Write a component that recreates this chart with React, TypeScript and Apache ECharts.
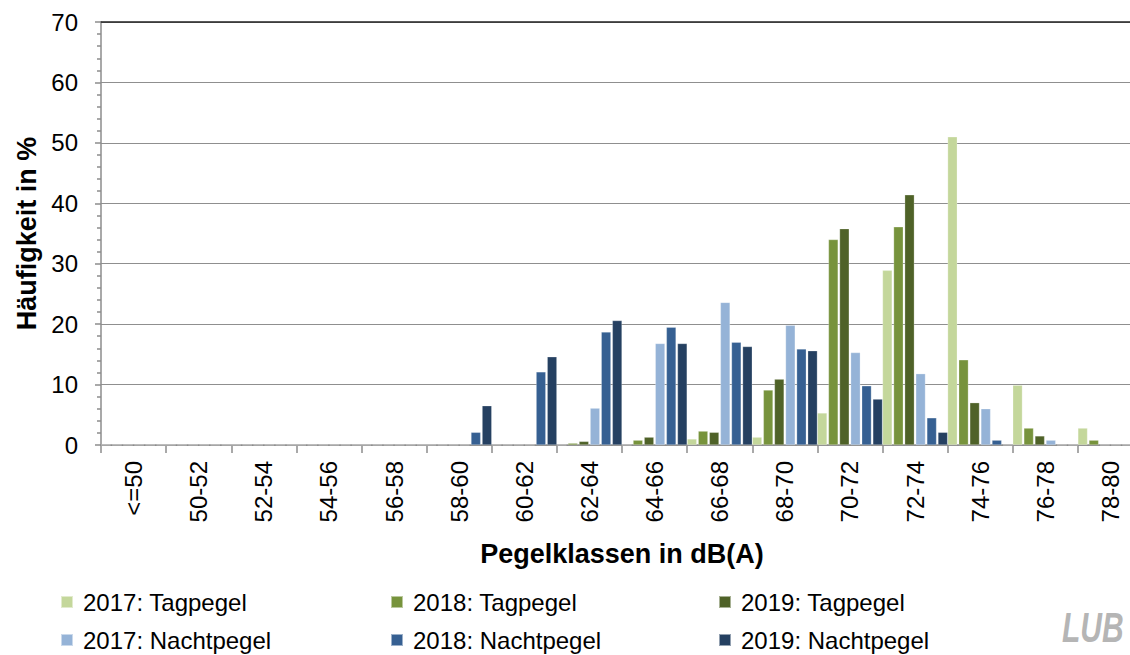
import React, { useEffect, useRef } from "react";
import * as echarts from "echarts";

const categories = ["<=50", "50-52", "52-54", "54-56", "56-58", "58-60", "60-62", "62-64", "64-66", "66-68", "68-70", "70-72", "72-74", "74-76", "76-78", "78-80"];
const tag2017 = [0, 0, 0, 0, 0, 0, 0, 0, 0, 1.0, 1.3, 5.3, 28.9, 51.0, 9.9, 2.8];
const tag2018 = [0, 0, 0, 0, 0, 0, 0, 0.3, 0.8, 2.3, 9.1, 34.0, 36.1, 14.1, 2.8, 0.8];
const tag2019 = [0, 0, 0, 0, 0, 0, 0, 0.6, 1.3, 2.1, 10.9, 35.8, 41.4, 7.0, 1.5, 0];
const nacht2017 = [0, 0, 0, 0, 0, 0, 0, 6.1, 16.8, 23.6, 19.8, 15.3, 11.8, 6.0, 0.8, 0];
const nacht2018 = [0, 0, 0, 0, 0, 2.1, 12.1, 18.7, 19.5, 17.0, 15.9, 9.8, 4.5, 0.8, 0, 0];
const nacht2019 = [0, 0, 0, 0, 0, 6.5, 14.6, 20.6, 16.8, 16.3, 15.6, 7.6, 2.1, 0, 0, 0];

const seriesNames = ["2017: Tagpegel", "2018: Tagpegel", "2019: Tagpegel", "2017: Nachtpegel", "2018: Nachtpegel", "2019: Nachtpegel"];
const seriesData = [tag2017, tag2018, tag2019, nacht2017, nacht2018, nacht2019];
const colors = ["#c4d79b", "#77933c", "#4f6228", "#95b3d7", "#366092", "#254061"];

const FONT = "'Liberation Sans', Arial, sans-serif";

export default function App() {
  const ref = useRef<HTMLDivElement>(null);
  useEffect(() => {
    if (!ref.current) return;
    const chart = echarts.init(ref.current, null, { renderer: "svg" });
    const legendPos = [
      { left: 60, top: 590 },
      { left: 390, top: 590 },
      { left: 718, top: 590 },
      { left: 60, top: 628 },
      { left: 390, top: 628 },
      { left: 718, top: 628 },
    ];
    chart.setOption({
      animation: false,
      backgroundColor: "#ffffff",
      textStyle: { fontFamily: FONT },
      grid: { left: 101, width: 1042, top: 22, bottom: 210, containLabel: false, outerBoundsMode: "none" },
      legend: seriesNames.map((n, i) => ({
        data: [n],
        left: legendPos[i].left,
        top: legendPos[i].top,
        itemWidth: 12,
        itemHeight: 12,
        icon: "rect",
        selectedMode: false,
        padding: 0,
        textStyle: { fontFamily: FONT, fontSize: 24, color: "#000", padding: [0, 0, 0, 5] },
      })),
      xAxis: [
        {
          type: "category",
          data: categories,
          position: "bottom",
          boundaryGap: true,
          name: "Pegelklassen in dB(A)",
          nameLocation: "middle",
          nameGap: 95,
          nameTextStyle: { fontFamily: FONT, fontSize: 27, fontWeight: "bold", color: "#000" },
          axisLine: { show: true, lineStyle: { color: "#8c8c8c", width: 1.5 } },
          axisTick: { show: true, alignWithLabel: false, length: 8, lineStyle: { color: "#8c8c8c", width: 1.5 } },
          axisLabel: { rotate: 90, margin: 16, fontFamily: FONT, fontSize: 24, color: "#000", interval: 0 },
          splitLine: { show: false },
        },
        {
          type: "category",
          data: categories,
          position: "top",
          axisLine: { show: true, lineStyle: { color: "#222", width: 1.5 } },
          axisTick: { show: false },
          axisLabel: { show: false },
          splitLine: { show: false },
        },
      ],
      yAxis: {
        type: "value",
        min: 0,
        max: 70,
        interval: 10,
        name: "Häufigkeit in %",
        nameLocation: "middle",
        nameGap: 60,
        nameTextStyle: { fontFamily: FONT, fontSize: 27, fontWeight: "bold", color: "#000" },
        axisLine: { show: true, lineStyle: { color: "#8c8c8c", width: 1.5 } },
        axisTick: { show: true, length: 6, lineStyle: { color: "#8c8c8c", width: 1.5 } },
        minorTick: { show: true, splitNumber: 5, length: 4, lineStyle: { color: "#8c8c8c", width: 1.5 } },
        axisLabel: { margin: 23, fontFamily: FONT, fontSize: 24, color: "#000" },
        splitLine: { show: true, lineStyle: { color: "#8f8f8f", width: 1 } },
      },
      series: seriesNames.map((n, i) => ({
        name: n,
        type: "bar",
        data: seriesData[i],
        xAxisIndex: 0,
        barGap: "15%",
        barCategoryGap: "0%",
        itemStyle: { color: colors[i], borderColor: "rgba(255,255,255,0.5)", borderWidth: 0.5 },
      })),
      graphic: [
        {
          type: "text",
          x: 1062,
          y: 607,
          scaleY: 1.4,
          style: {
            text: "LUB",
            fontFamily: FONT,
            fontSize: 30,
            fontWeight: "bold",
            fontStyle: "italic",
            fill: "#b5b5b5",
          },
        },
      ],
    });
    return () => chart.dispose();
  }, []);
  return (
    <div
      ref={ref}
      style={{ position: "fixed", left: 0, top: 0, width: 1130, height: 655, background: "#fff" }}
    />
  );
}
